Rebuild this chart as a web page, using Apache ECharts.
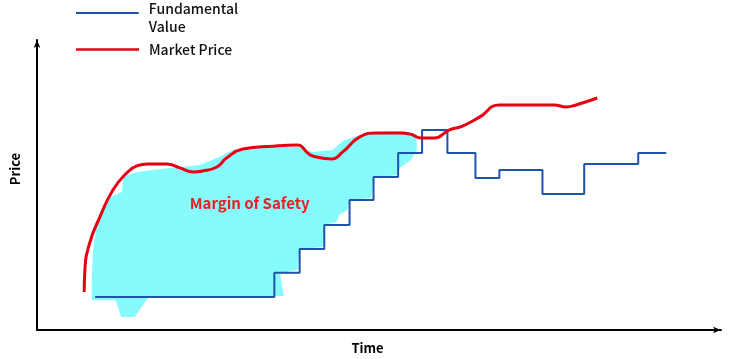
<!DOCTYPE html>
<html>
<head>
<meta charset="utf-8">
<script src="https://cdn.jsdelivr.net/npm/echarts@6/dist/echarts.min.js"></script>
<style>html,body{margin:0;padding:0;background:#fff}#c{width:740px;height:359px}</style>
</head>
<body>
<div id="c"></div>
<script>
// Fundamental value: step levels [time, price]
const fundamentalValue = [
  [8.5, 11.4], [34.7, 19.7], [38.4, 27.9], [42.0, 36.2], [45.7, 44.8],
  [49.2, 52.8], [52.8, 61.0], [56.3, 69.0], [60.0, 61.0], [64.1, 52.4],
  [67.6, 55.2], [73.9, 46.9], [80.0, 57.2], [87.9, 61.0], [92.0, 61.0]
];
// Market price curve [time, price]
const marketPrice = [
  [6.9, 13.1], [7.0, 20.7], [7.7, 30.0], [9.2, 39.0], [11.1, 48.3],
  [13.1, 54.1], [14.6, 56.6], [16.2, 57.2], [19.0, 57.2], [20.9, 55.9],
  [22.8, 54.5], [24.2, 54.8], [26.3, 56.2], [27.7, 59.3], [30.1, 62.4],
  [34.5, 63.4], [38.1, 63.8], [39.6, 61.0], [40.3, 60.0], [43.1, 59.0],
  [44.7, 61.4], [47.2, 66.6], [49.6, 67.9], [53.0, 67.9], [54.5, 67.6],
  [56.2, 66.2], [58.1, 66.2], [60.3, 69.0], [62.2, 70.3], [64.7, 73.4],
  [67.6, 77.6], [75.6, 77.6], [77.4, 76.9], [78.8, 77.6], [81.9, 80.0]
];
// Hand-shaded margin-of-safety region outline [time, price]
const marginRegion = [
  [8.0, 10.3], [11.5, 10.3], [12.3, 4.5], [14.3, 4.5], [16.4, 11.7],
  [36.1, 11.7], [35.5, 19.7], [38.1, 20.7], [38.4, 27.9], [41.8, 28.6],
  [42.0, 36.2], [43.8, 37.2], [44.2, 39.7], [45.4, 41.4], [45.7, 44.8],
  [48.9, 45.5], [49.2, 52.8], [52.7, 53.4], [53.0, 55.9], [54.7, 58.6],
  [55.5, 62.1], [55.5, 67.2], [53.7, 68.6], [49.8, 68.3], [47.2, 67.2],
  [44.7, 65.2], [43.2, 62.1], [40.3, 61.4], [38.1, 63.1], [34.5, 63.4],
  [30.7, 62.4], [28.6, 62.1], [27.0, 60.0], [23.8, 56.9], [19.4, 55.9],
  [14.6, 54.5], [12.6, 52.8], [12.4, 47.6], [10.7, 45.9], [8.8, 37.9],
  [8.2, 27.6], [8.0, 17.2]
];
const marginLabel = [[31.1, 43.8]];
const seriesNames = ['Fundamental Value', 'Market Price'];

const blue = '#1f52aa';
const red = '#e60012';
const cyan = '#86fbfb';
const font = '"Noto Sans CJK SC", "Noto Sans", sans-serif';

const chart = echarts.init(document.getElementById('c'), null, {renderer: 'canvas'});
chart.setOption({
  animation: false,
  backgroundColor: '#fff',
  grid: {left: 37, right: 19, top: 40, bottom: 29, outerBoundsMode: 'none', containLabel: false},
  legend: [
    {
      data: [seriesNames[0]], orient: 'vertical', left: 76, top: 0, padding: 0,
      itemWidth: 63, itemHeight: 12,
      icon: 'path://M0,0H63V2H0Z M0,12H0.05V12.05H0Z',
      formatter: () => 'Fundamental\nValue',
      textStyle: {fontFamily: font, fontSize: 14, fontWeight: 500, color: '#111', lineHeight: 18, padding: [0, 0, 0, 5]}
    },
    {
      data: [seriesNames[1]], orient: 'vertical', left: 76, top: 40.5, padding: 0,
      itemWidth: 63, itemHeight: 2.5,
      icon: 'path://M0,0H63V2.5H0Z',
      textStyle: {fontFamily: font, fontSize: 14, fontWeight: 500, color: '#111', lineHeight: 18, padding: [0, 0, 0, 5]}
    }
  ],
  xAxis: {
    type: 'value', min: 0, max: 100,
    name: 'Time', nameLocation: 'middle', nameGap: 12,
    nameTextStyle: {fontFamily: font, fontSize: 13, fontWeight: 'bold', color: '#000', padding: [0, 23, 0, 0]},
    axisLine: {show: true, lineStyle: {color: '#000', width: 2}, symbol: ['none', 'arrow'], symbolSize: [5, 8]},
    axisTick: {show: false}, axisLabel: {show: false}, splitLine: {show: false}
  },
  yAxis: {
    type: 'value', min: 0, max: 100,
    name: 'Price', nameLocation: 'middle', nameGap: 15, nameRotate: 90,
    nameTextStyle: {fontFamily: font, fontSize: 13, fontWeight: 'bold', color: '#000', padding: [0, 0, 0, 32]},
    axisLine: {show: true, lineStyle: {color: '#000', width: 2}, symbol: ['none', 'arrow'], symbolSize: [5, 8]},
    axisTick: {show: false}, axisLabel: {show: false}, splitLine: {show: false}
  },
  series: [
    {
      type: 'custom', name: 'Margin', silent: true, z: 1,
      data: [0],
      renderItem: function (params, api) {
        const pts = marginRegion.map(p => api.coord(p));
        return {type: 'polygon', shape: {points: pts}, style: {fill: cyan}};
      }
    },
    {
      type: 'line', name: seriesNames[0], data: fundamentalValue, step: 'end',
      showSymbol: false, symbol: 'none', z: 3, color: blue,
      lineStyle: {color: blue, width: 2}
    },
    {
      type: 'line', name: seriesNames[1], data: marketPrice, smooth: 0.5,
      showSymbol: false, symbol: 'none', z: 4, color: red,
      lineStyle: {color: red, width: 3}
    },
    {
      type: 'scatter', name: 'label', data: marginLabel, symbolSize: 0, z: 5, silent: true,
      itemStyle: {opacity: 1},
      label: {show: true, position: 'inside', formatter: 'Margin of Safety',
        fontFamily: font, fontSize: 15, fontWeight: 'bold', color: '#ee1c25', opacity: 1}
    }
  ]
});
</script>
</body>
</html>
